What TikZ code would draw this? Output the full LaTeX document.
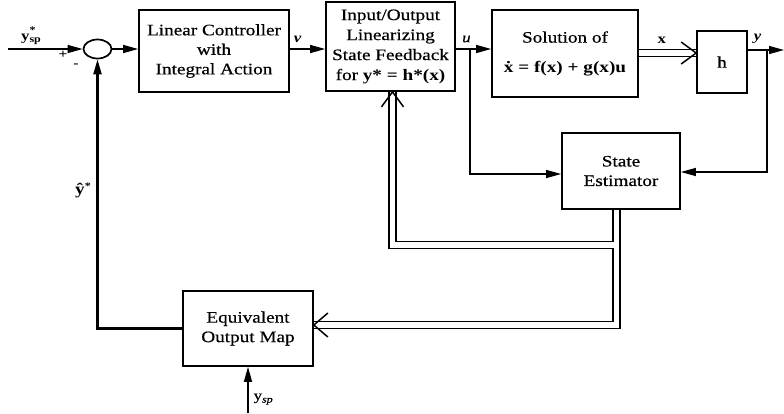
\documentclass[tikz,border=0pt]{standalone}
\usepackage{fontspec}
\setmainfont[FakeStretch=1.2,UprightFeatures={FakeBold=0.5},ItalicFeatures={FakeBold=0.5}]{Liberation Serif}
\usetikzlibrary{arrows.meta,calc,shapes.geometric}
\newcommand{\smallidx}[1]{{\fontsize{10}{10}\selectfont #1}}
\begin{document}
\begin{tikzpicture}[x=1pt,y=-1pt,
  box/.style={draw,line width=1.7pt,inner sep=2pt,align=center,font=\fontsize{16}{19.5}\selectfont},
  conn/.style={line width=1.3pt,-{Triangle[length=15pt,width=8pt]}},
  dbl/.style={double,double distance=5.5pt,line width=1.4pt},
  chev/.style={line width=1.5pt,line join=miter},
  lbl/.style={font=\fontsize{14}{16}\selectfont,inner sep=0pt}]
\useasboundingbox (0,0) rectangle (784,413);

% blocks
\node[draw,ellipse,line width=1.7pt,minimum width=28pt,minimum height=19pt,inner sep=0pt] (sum) at (97.5,49) {};
\node[box,minimum width=150pt,minimum height=82pt] (lc) at (214,51) {Linear Controller\\with\\Integral Action};
\node[box,minimum width=129pt,minimum height=89pt,font=\fontsize{16}{20}\selectfont] (io) at (390.5,46.5) {Input/Output\\Linearizing\\State Feedback\\for \textbf{y* = h*(x)}};
\node[box,minimum width=146pt,minimum height=87pt] (sol) at (565,53.5) {Solution of\\[10pt]\textbf{\.{x} = f(x) + g(x)u}};
\node[box,minimum width=50pt,minimum height=62pt] (hb) at (722,62) {h};
\node[box,minimum width=118pt,minimum height=76pt] (se) at (621,171) {State\\Estimator};
\node[box,minimum width=130pt,minimum height=75pt] (eom) at (248,328.5) {Equivalent\\Output Map};

% free ends and branch points
\coordinate (in) at (8,49);
\coordinate (ub) at (470,49);
\coordinate (yb) at (767,50);
\coordinate (out) at (784,50);
\coordinate (rowx) at (0,53);
\coordinate (ysp) at (248,413);

% connectors
\draw[conn] (in) -- (sum.west);
\draw[conn] (sum.east) -- (lc.west|-sum.east);
\draw[conn] (lc.east|-sum.east) -- node[lbl,above=6pt,pos=0.22]{\textbf{\textit{v}}} (io.west|-sum.east);
\draw[conn] (io.east|-ub) -- node[lbl,above=6pt,pos=0.3]{\textit{u}} (sol.west|-ub);
\draw[conn] (ub) |- ([yshift=-3pt]se.west);
\draw[dbl] (sol.east|-rowx) -- node[lbl,above=9pt,pos=0.4]{\textbf{x}} (hb.west|-rowx);
\draw[chev] ($(hb.west|-rowx)+(-15,-11)$) -- (hb.west|-rowx) -- ($(hb.west|-rowx)+(-15,11)$);
\draw[conn] (hb.east|-yb) -- node[lbl,above=6pt,pos=0.27]{\textbf{\textit{y}}} (out);
\draw[conn] (yb) |- ([yshift=-1pt]se.east);

% double-line buses from the state estimator
\draw[dbl] ([xshift=-4.5pt]se.south) |- ([yshift=3.5pt]eom.east);
\draw[chev] ($([yshift=3.5pt]eom.east)+(14,-12)$) -- ([yshift=3.5pt]eom.east) -- ($([yshift=3.5pt]eom.east)+(14,12)$);
\draw[dbl] ($(se.south)+(-7.3,35)$) -| ([xshift=2pt]io.south);
\draw[chev] ($([xshift=2pt]io.south)+(-11,15)$) -- ([xshift=2pt]io.south) -- ($([xshift=2pt]io.south)+(11,15)$);

% feedback and setpoint into the output map
\draw[conn,line width=2.2pt] (eom.west) -| (sum.south);
\draw[conn] (ysp) -- node[lbl,right=5pt,pos=0.3]{y\raisebox{-0.4ex}{\smallidx{\textit{sp}}}} (eom.south);

% labels
\node[lbl] (lysp) at (31,36) {\textbf{y}\rlap{\raisebox{1ex}{\smallidx{\textbf{*}}}}\raisebox{-0.4ex}{\smallidx{\textbf{sp}}}};
\node[lbl,font=\fontsize{13}{13}\selectfont\bfseries] (plus) at (63,55) {+};
\node[lbl,font=\fontsize{13}{13}\selectfont\bfseries] (minus) at (76,66) {-};
\node[lbl,font=\fontsize{16}{16}\selectfont] (lyhat) at (83,190) {\textbf{\^{y}}\raisebox{0.7ex}{\smallidx{\textbf{*}}}};
\end{tikzpicture}
\end{document}
